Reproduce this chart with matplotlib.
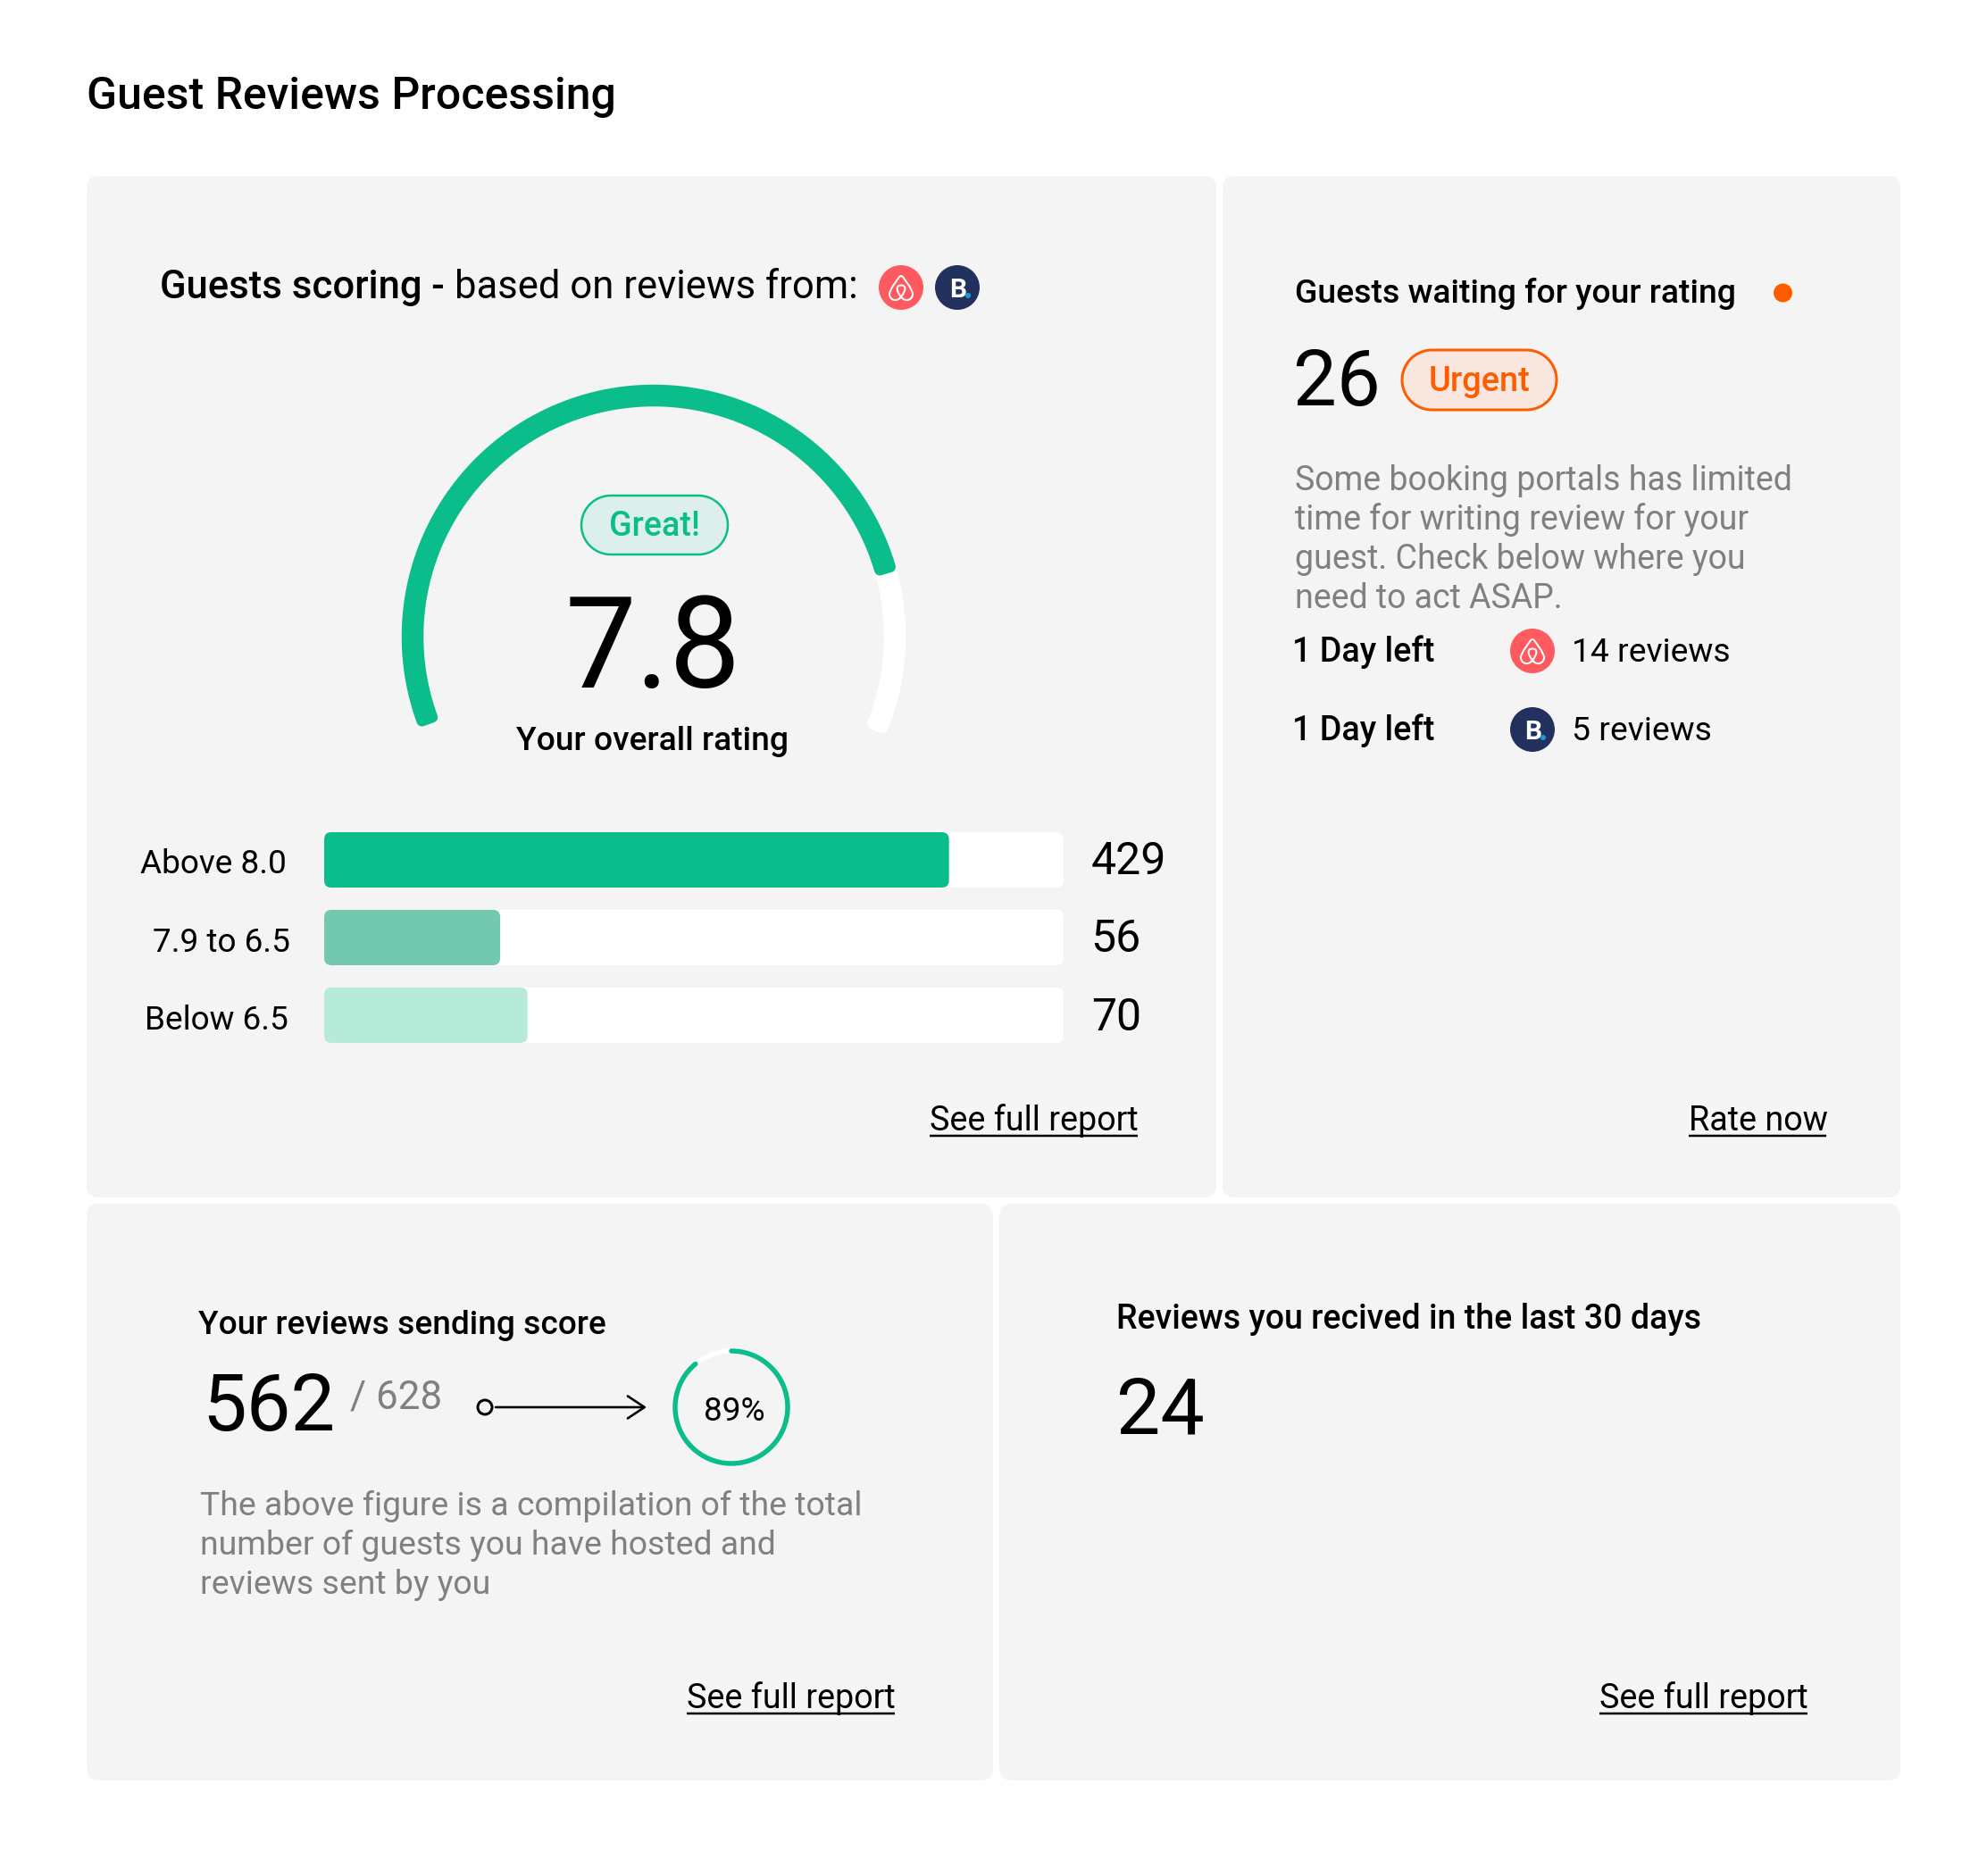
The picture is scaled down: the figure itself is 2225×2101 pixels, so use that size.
#!/usr/bin/env python3
# -*- coding: utf-8 -*-
"""Guest reviews dashboard, drawn on one axes that counts in image pixels."""

import numpy as np
import matplotlib
matplotlib.use("Agg")
import matplotlib.pyplot as plt
from matplotlib.patches import Circle, FancyBboxPatch, PathPatch, Polygon
from matplotlib.path import Path

plt.rcParams["font.family"] = ["Roboto", "DejaVu Sans"]

# -------------------------
# Data
# -------------------------
overall_rating = "7.8"
gauge_fill = 0.83

band_labels = ["Above 8.0", "7.9 to 6.5", "Below 6.5"]
band_counts = [429, 56, 70]
band_fill = [0.845, 0.238, 0.275]

waiting_count = 26
waiting_days = ["1 Day left", "1 Day left"]
waiting_reviews = ["14 reviews", "5 reviews"]

sent_reviews = 562
total_guests = 628
sent_share = 0.89
received_count = 24

waiting_text = [
    "Some booking portals has limited",
    "time for writing review for your",
    "guest. Check below where you",
    "need to act ASAP.",
]
sent_text = [
    "The above figure is a compilation of the total",
    "number of guests you have hosted and",
    "reviews sent by you",
]

GREEN = "#0BBD8A"
ORANGE = "#FF5C00"
GREY = "#808080"
CARD = "#F4F4F4"
BUTTON = "#F5F5F5"
BAR_COLORS = [GREEN, "#72C9AF", "#B6EBDA"]

W, H = 2225, 2101
PX = 72 / 100  # one image pixel in points at dpi 100

fig = plt.figure(figsize=(W / 100, H / 100), dpi=100, facecolor="white")
ax = fig.add_axes([0, 0, 1, 1])
ax.set_xlim(0, W)
ax.set_ylim(H, 0)
ax.axis("off")


def rbox(x0, y0, x1, y1, r, fc, ec="none", lw=0, z=1):
    ax.add_patch(FancyBboxPatch(
        (x0 + r, y0 + r), x1 - x0 - 2 * r, y1 - y0 - 2 * r,
        boxstyle=f"round,pad={r},rounding_size={r}",
        fc=fc, ec=ec, lw=lw * PX, zorder=z))


def pill(x0, y0, x1, y1, fc, ec, lw):
    # true half circles at both ends, the bbox style above comes out too square
    r = (y1 - y0) / 2
    cy = (y0 + y1) / 2
    t = np.radians(np.linspace(-90, 90, 40))
    right = np.c_[x1 - r + r * np.cos(t), cy + r * np.sin(t)]
    left = np.c_[x0 + r - r * np.cos(t[::-1]), cy + r * np.sin(t[::-1])]
    ax.add_patch(Polygon(np.r_[right, left], closed=True, fc=fc, ec=ec,
                         lw=lw * PX, zorder=3))


def txt(x, y, s, size, weight="normal", color="black", ha="left", z=5):
    return ax.text(x, y, s, fontsize=size * PX, fontweight=weight, color=color,
                   ha=ha, va="baseline", zorder=z)


def link(x0, x1, y, s, bg):
    rbox(bg[0], bg[1], bg[2], bg[3], 14, BUTTON)
    txt(x0, y, s, 37.6)
    ax.plot([x0, x1], [y + 6, y + 6], color="black", lw=2.5 * PX,
            solid_capstyle="butt", zorder=5)


def band(cx, cy, r, width, a0, a1, color, corner, z=3):
    # arc band with softened ends: inset outline plus a thick round-joined edge
    half = width / 2 - corner
    d = np.degrees(corner / r)
    t = np.radians(np.linspace(a0 - d, a1 + d, 200))
    outer = np.c_[cx + (r + half) * np.cos(t), cy - (r + half) * np.sin(t)]
    inner = np.c_[cx + (r - half) * np.cos(t), cy - (r - half) * np.sin(t)]
    ax.add_patch(Polygon(np.r_[outer, inner[::-1]], closed=True, fc=color, ec=color,
                         lw=2 * corner * PX, joinstyle="round", zorder=z))


def airbnb(cx, cy, r=25):
    verts = [(0, .42), (-.2, .68), (-.5, .55), (-.52, .32),
             (-.53, .2), (-.45, .1), (-.38, -.05), (-.12, -.42),
             (-.05, -.55), (.05, -.55), (.12, -.42), (.38, -.05),
             (.45, .1), (.53, .2), (.52, .32),
             (.5, .55), (.2, .68), (0, .42),
             (-.25, .1), (-.22, -.1), (0, -.1),
             (.22, -.1), (.25, .1), (0, .42)]
    codes = [Path.MOVETO] + [Path.CURVE4] * 6 + [Path.LINETO] + [Path.CURVE4] * 3 \
        + [Path.LINETO] + [Path.CURVE4] * 12
    pts = [(cx + a * r, cy + b * r) for a, b in verts]
    ax.add_patch(Circle((cx, cy), r, fc="#FF5A5F", ec="none", zorder=3))
    ax.add_patch(PathPatch(Path(pts, codes), fc="none", ec="white", lw=2 * PX, zorder=4))


def booking(cx, cy, r=25):
    ax.add_patch(Circle((cx, cy), r, fc="#22315D", ec="none", zorder=3))
    txt(cx - 9, cy + 11, "B", 30, "bold", "white", z=4)
    ax.add_patch(Circle((cx + 12, cy + 9), 3, fc="#1C9AD6", ec="none", zorder=4))


# -------------------------
# Title and cards
# -------------------------
txt(97, 122, "Guest Reviews Processing", 50, "medium")
rbox(97, 197, 1362, 1341, 14, CARD)
rbox(1369, 197, 2128, 1341, 14, CARD)
rbox(97, 1348, 1112, 1994, 14, CARD)
rbox(1119, 1348, 2128, 1994, 14, CARD)

# -------------------------
# Guests scoring card
# -------------------------
txt(179, 334, "Guests scoring -", 43.6, "medium")
txt(509, 334, "based on reviews from:", 43.6)
airbnb(1009, 322)
booking(1072, 322)

start, end = 201.3, -23
split = start - gauge_fill * (start - end)
band(732, 713, 270, 24.5, split + 4, end, "white", 6, z=2)
band(732, 713, 270, 24.5, start, split, GREEN, 6)

pill(651, 555, 815, 621, "#DCEFEA", GREEN, 2.5)
txt(733, 600, "Great!", 37.6, "medium", GREEN, ha="center")
txt(731, 770, overall_rating, 142, ha="center")
txt(730, 840, "Your overall rating", 37.2, "medium", ha="center")

bar_tops = [932, 1019, 1106]
label_right = [321, 325, 323]
label_base = [978, 1066, 1153]
count_left = [1222, 1221, 1222]
count_base = [979, 1066, 1154]
for i, label in enumerate(band_labels):
    top = bar_tops[i]
    rbox(363, top, 1191, top + 62, 8, "white", z=2)
    rbox(363, top, 363 + band_fill[i] * 828, top + 62, 8, BAR_COLORS[i], z=3)
    txt(label_right[i], label_base[i], label, 37, ha="right")
    txt(count_left[i], count_base[i], str(band_counts[i]), 50)

link(1041, 1274, 1266, "See full report", (1006, 1213, 1304, 1295))

# -------------------------
# Guests waiting card
# -------------------------
txt(1450, 339, "Guests waiting for your rating", 37.4, "medium")
ax.add_patch(Circle((1996.5, 328), 10.5, fc=ORANGE, ec="none", zorder=3))
txt(1448, 454, str(waiting_count), 87)
pill(1570, 392, 1743, 459, "#F8E6DF", ORANGE, 3)
txt(1657, 438, "Urgent", 38, "medium", ORANGE, ha="center")
for i, line in enumerate(waiting_text):
    txt(1450, 549 + 44 * i, line, 37.5, color=GREY)

for i, (days, reviews) in enumerate(zip(waiting_days, waiting_reviews)):
    base = 741 + 88 * i
    txt(1447, base, days, 37.7, "medium")
    txt(1760, base, reviews, 37.2)
airbnb(1716, 729)
booking(1716, 817)

link(1891, 2045, 1266, "Rate now", (1860, 1213, 2075, 1295))

# -------------------------
# Reviews sending card
# -------------------------
txt(222, 1494, "Your reviews sending score", 37, "medium")
txt(226, 1602, str(sent_reviews), 88.5)
txt(392, 1577, f"/ {total_guests}", 44, color=GREY)

ax.add_patch(Circle((543, 1576), 8, fc="none", ec="black", lw=3 * PX, zorder=4))
ax.annotate("", xy=(724, 1576), xytext=(555, 1576), zorder=4,
            arrowprops=dict(arrowstyle="->,head_length=0.75,head_width=0.5",
                            color="black", lw=2.6 * PX, shrinkA=0, shrinkB=0,
                            mutation_scale=18))

t = np.radians(np.linspace(0, 360, 300))
ax.plot(819 + 63 * np.cos(t), 1576 - 63 * np.sin(t), color="white", lw=5.5 * PX, zorder=3)
t = np.radians(np.linspace(90, 90 - 360 * sent_share, 300))
ax.plot(819 + 63 * np.cos(t), 1576 - 63 * np.sin(t), color=GREEN, lw=5.5 * PX,
        solid_capstyle="round", zorder=4)
txt(822, 1591, f"{sent_share:.0%}", 37, ha="center")

for i, line in enumerate(sent_text):
    txt(224, 1697 + 44 * i, line, 37.4, color=GREY)

link(769, 1002, 1913, "See full report", (735, 1866, 1033, 1937))

# -------------------------
# Reviews received card
# -------------------------
txt(1250, 1488, "Reviews you recived in the last 30 days", 37.5, "medium")
txt(1250, 1605, str(received_count), 88)
link(1791, 2024, 1913, "See full report", (1757, 1866, 2055, 1937))

fig.savefig("out.png", dpi=100, facecolor="white")
